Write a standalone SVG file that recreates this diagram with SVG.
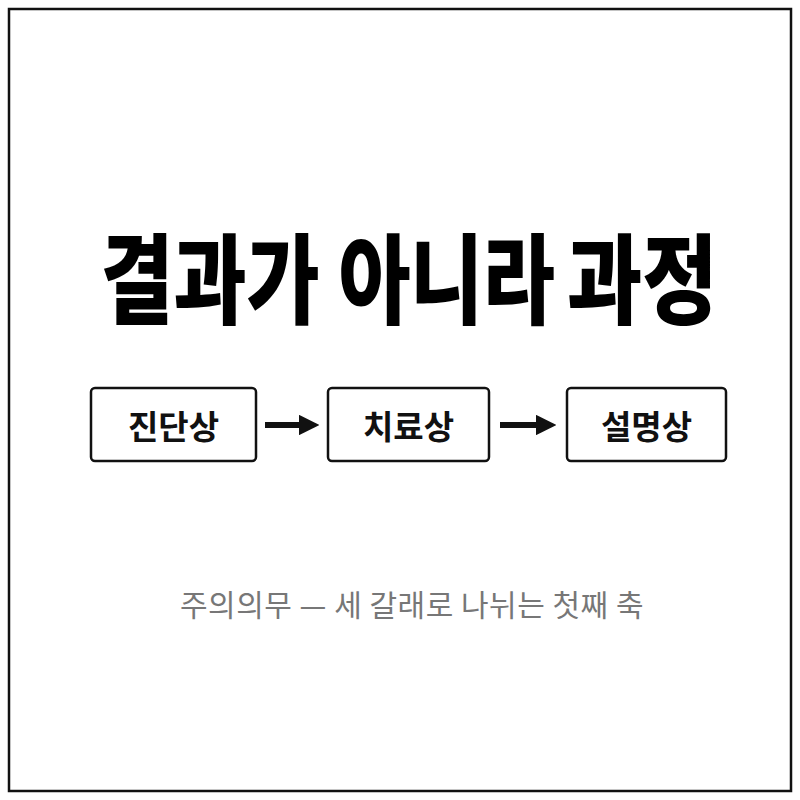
<svg xmlns="http://www.w3.org/2000/svg" width="800" height="800" viewBox="0 0 800 800">
<defs>
<style>
.frame{fill:#fff;stroke:#111;stroke-width:2.5}
.box{fill:#fff;stroke:#111;stroke-width:2.5}
.lbl{font-family:"Noto Sans CJK KR","Noto Sans",sans-serif;font-weight:700;font-size:33px;fill:#111;text-anchor:middle;dominant-baseline:central}
.title{font-family:"Noto Sans CJK KR","Noto Sans",sans-serif;font-weight:900;font-size:98px;fill:#000}
.sub{font-family:"Noto Sans CJK KR","Noto Sans",sans-serif;font-weight:400;font-size:30px;fill:#777;text-anchor:middle;letter-spacing:0.5px}
.conn{stroke:#111;stroke-width:6;fill:none}
</style>
<marker id="ah" viewBox="0 0 10 10" refX="0" refY="5" markerWidth="3.4" markerHeight="3.4" markerUnits="strokeWidth" orient="auto">
<path d="M0,0 L10,5 L0,10 z" fill="#111"/>
</marker>
</defs>
<rect x="0" y="0" width="800" height="800" fill="#fff"/>
<rect class="frame" x="9" y="9" width="782" height="782"/>
<g id="title">
<text class="title" transform="translate(100.6,316) scale(0.81,1)" x="0" y="0">결과가</text>
<text class="title" transform="translate(338.5,316) scale(0.80,1)" x="0" y="0">아니라</text>
<text class="title" transform="translate(567,316) scale(0.835,1)" x="0" y="0">과정</text>
</g>
<g id="node1"><rect class="box" x="91" y="388" width="165" height="73" rx="4"/><text class="lbl" x="173.5" y="424.5">진단상</text></g>
<g id="node2"><rect class="box" x="328" y="388" width="161" height="73" rx="4"/><text class="lbl" x="408.5" y="424.5">치료상</text></g>
<g id="node3"><rect class="box" x="567" y="388" width="159" height="73" rx="4"/><text class="lbl" x="646.5" y="424.5">설명상</text></g>
<g id="connectors">
<line class="conn" x1="265" y1="425" x2="299" y2="425" marker-end="url(#ah)"/>
<line class="conn" x1="500" y1="425" x2="536" y2="425" marker-end="url(#ah)"/>
</g>
<g id="subtitle"><text class="sub" x="412" y="616">주의의무 — 세 갈래로 나뉘는 첫째 축</text></g>
</svg>
